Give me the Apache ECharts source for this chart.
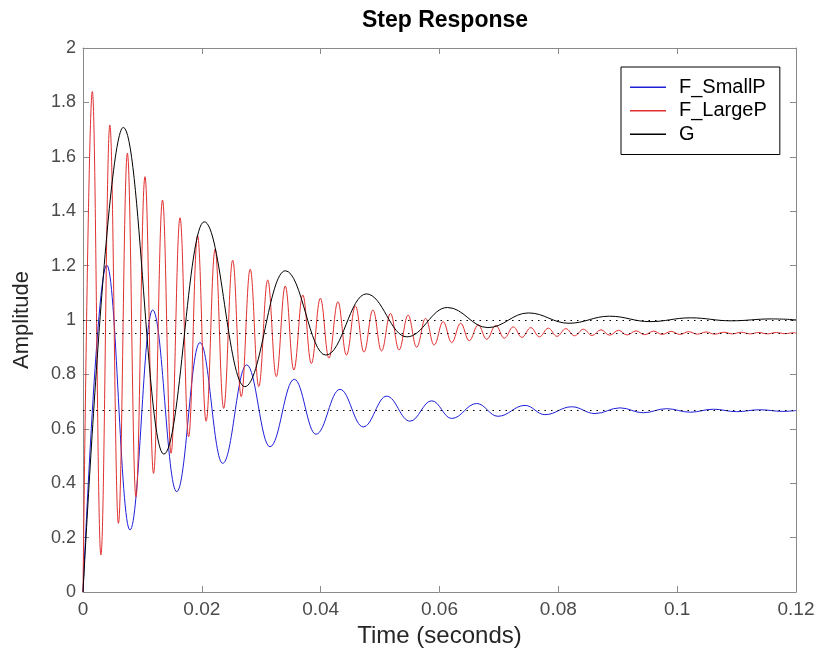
<!DOCTYPE html>
<html>
<head>
<meta charset="utf-8">
<script src="https://cdn.jsdelivr.net/npm/echarts@6/dist/echarts.min.js"></script>
<style>
html,body{margin:0;padding:0;background:#fff;}
#chart{width:821px;height:660px;}
</style>
</head>
<body>
<div id="chart"></div>
<script>
// ---- data ----
const seriesNames = ['F_SmallP', 'F_LargeP', 'G'];
const xTickLabels = ['0', '0.02', '0.04', '0.06', '0.08', '0.1', '0.12'];
const yTickLabels = ['0', '0.2', '0.4', '0.6', '0.8', '1', '1.2', '1.4', '1.6', '1.8', '2'];
const steadyStates = [1, 0.95, 0.6667];

// F_SmallP (blue): start, then alternating peaks / troughs
const smallT = [0, 0.00399, 0.00791, 0.01173, 0.01577, 0.01969, 0.02351, 0.02755, 0.03147, 0.03556,
  0.03921, 0.04325, 0.04717, 0.05111, 0.05503, 0.05869, 0.06205, 0.06626, 0.06984, 0.07439,
  0.07775, 0.08225, 0.08617, 0.09038, 0.0943, 0.0982, 0.1022, 0.1061, 0.1100, 0.1139, 0.1178, 0.12];
const smallV = [0, 1.202, 0.228, 1.037, 0.369, 0.917, 0.473, 0.835, 0.534, 0.782,
  0.58, 0.745, 0.607, 0.72, 0.628, 0.703, 0.638, 0.693, 0.646, 0.686,
  0.652, 0.681, 0.656, 0.677, 0.659, 0.674, 0.661, 0.672, 0.663, 0.670, 0.664, 0.667];

// F_LargeP (red)
const largeT = [0, 0.00157, 0.00301, 0.00452, 0.00596, 0.00747, 0.00891, 0.01043, 0.01187, 0.01338,
  0.01482, 0.01633, 0.01777, 0.01928, 0.02072, 0.02223, 0.02367, 0.02519, 0.02663, 0.02814,
  0.02958, 0.03109, 0.03253, 0.03404, 0.03548, 0.03699, 0.03843, 0.03995, 0.04139, 0.04290,
  0.04434, 0.04585, 0.04729, 0.04880, 0.05024, 0.05175, 0.05319, 0.05471, 0.05615, 0.05766,
  0.05910, 0.06061, 0.06205, 0.06356, 0.06500, 0.06651, 0.06795, 0.06947, 0.07091, 0.07242,
  0.07386, 0.07537, 0.07681, 0.07832, 0.07976, 0.08127, 0.08271, 0.08423, 0.08567, 0.08718,
  0.08862, 0.09013, 0.09157, 0.09308, 0.09452, 0.09603, 0.09747, 0.09899, 0.10043, 0.10194,
  0.10338, 0.10489, 0.10633, 0.10784, 0.10928, 0.11079, 0.11223, 0.11375, 0.11519, 0.11670,
  0.11814, 0.11965, 0.12];
const largeV = [0, 1.84, 0.136, 1.717, 0.2525, 1.613, 0.35, 1.527, 0.436, 1.441,
  0.51, 1.376, 0.571, 1.31, 0.628, 1.26, 0.675, 1.22, 0.718, 1.187,
  0.755, 1.147, 0.792, 1.125, 0.816, 1.092, 0.84, 1.08, 0.86, 1.067,
  0.871, 1.051, 0.882, 1.037, 0.886, 1.024, 0.89, 1.018, 0.9, 1.006,
  0.908, 0.994, 0.917, 0.988, 0.924, 0.982, 0.929, 0.980, 0.933, 0.975,
  0.936, 0.972, 0.938, 0.970, 0.940, 0.968, 0.942, 0.966, 0.943, 0.964,
  0.944, 0.962, 0.945, 0.960, 0.946, 0.959, 0.947, 0.958, 0.947, 0.957,
  0.948, 0.956, 0.948, 0.955, 0.949, 0.955, 0.949, 0.954, 0.949, 0.954,
  0.950, 0.953, 0.952];

// G (black)
const gT = [0, 0.00678, 0.0136, 0.02041, 0.02723, 0.03405, 0.04087, 0.04769, 0.05451, 0.06133,
  0.06815, 0.07497, 0.08179, 0.08861, 0.09543, 0.10225, 0.10907, 0.11589, 0.12];
const gV = [0, 1.708, 0.507, 1.361, 0.755, 1.181, 0.871, 1.096, 0.938, 1.046,
  0.972, 1.026, 0.988, 1.014, 0.994, 1.008, 0.997, 1.004, 1.001];

const colors = ['#1f1fd8', '#e03030', '#000000'];

function pairs(t, v) { return t.map((x, i) => [x, v[i]]); }

const chart = echarts.init(document.getElementById('chart'), null, {renderer: 'canvas'});
const FONT = '"Liberation Sans", Arial, Helvetica, sans-serif';
const axisColor = '#8a8a8a';
const labelColor = '#4a4a4a';

function xAx(pos, labels) {
  return {
    type: 'value', min: 0, max: 0.12, interval: 0.02, position: pos,
    axisLine: {show: true, onZero: false, lineStyle: {color: axisColor, width: 1}},
    axisTick: {show: true, inside: true, length: 6, lineStyle: {color: axisColor}},
    splitLine: {show: false},
    axisLabel: {show: labels, color: labelColor, fontFamily: FONT, fontSize: 19, margin: 8,
      formatter: v => xTickLabels[Math.round(v / 0.02)]},
    name: labels ? 'Time (seconds)' : '', nameLocation: 'middle', nameGap: 31,
    nameTextStyle: {color: '#262626', fontFamily: FONT, fontSize: 24}
  };
}
function yAx(pos, labels) {
  return {
    type: 'value', min: 0, max: 2, interval: 0.2, position: pos,
    axisLine: {show: true, onZero: false, lineStyle: {color: axisColor, width: 1}},
    axisTick: {show: true, inside: true, length: 6, lineStyle: {color: axisColor}},
    splitLine: {show: false},
    axisLabel: {show: labels, color: labelColor, fontFamily: FONT, fontSize: 18, margin: 7,
      formatter: v => yTickLabels[Math.round(v / 0.2)]},
    name: labels ? 'Amplitude' : '', nameLocation: 'middle', nameGap: 50,
    nameTextStyle: {color: '#262626', fontFamily: FONT, fontSize: 22}
  };
}

const dataSets = [pairs(smallT, smallV), pairs(largeT, largeV), pairs(gT, gV)];

const series = seriesNames.map((name, i) => ({
  name: name, type: 'line', data: dataSets[i], symbol: 'none',
  smooth: 0.4, smoothMonotone: 'x', animation: false, z: 2 + i,
  lineStyle: {color: colors[i], width: 1},
  itemStyle: {color: colors[i]}
}));
series.push({
  name: 'steady', type: 'line', data: [], symbol: 'none', animation: false, z: 6,
  markLine: {
    silent: true, symbol: ['none', 'none'], animation: false,
    label: {show: false},
    lineStyle: {type: [1.5, 5], color: '#000', width: 1.2},
    data: steadyStates.map(v => ({yAxis: v}))
  }
});

chart.setOption({
  backgroundColor: '#ffffff',
  animation: false,
  title: {
    text: 'Step Response', left: 440, top: 4, textAlign: 'center',
    textStyle: {fontFamily: FONT, fontSize: 23, fontWeight: 'bold', color: '#000'}
  },
  legend: {
    data: seriesNames, orient: 'vertical', left: 621, top: 67,
    icon: 'rect', itemWidth: 36, itemHeight: 1.5, itemGap: 3,
    symbolKeepAspect: false,
    padding: [10, 13, 10, 9],
    borderColor: '#000', borderWidth: 1, backgroundColor: '#fff',
    textStyle: {fontFamily: FONT, fontSize: 20, lineHeight: 20.5, color: '#000', padding: [0, 0, 0, 8]}
  },
  grid: {left: 83, top: 48, width: 713, height: 544, containLabel: false},
  xAxis: [xAx('bottom', true), xAx('top', false)],
  yAxis: [yAx('left', true), yAx('right', false)],
  series: series
});
</script>
</body>
</html>
